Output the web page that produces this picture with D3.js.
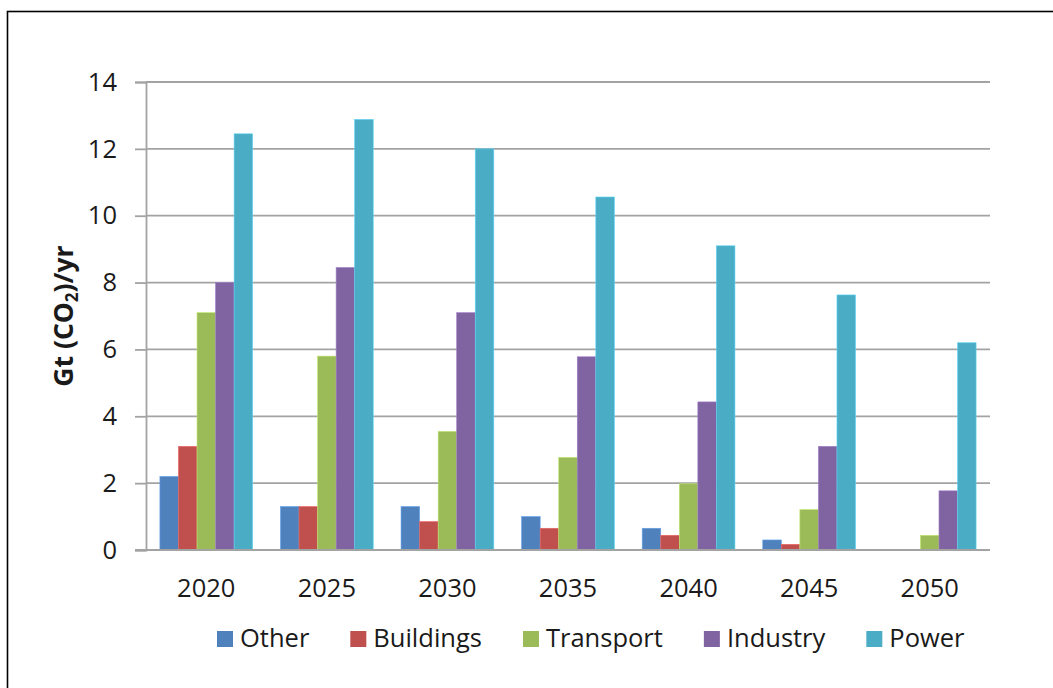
<!DOCTYPE html>
<html>
<head>
<meta charset="utf-8">
<script src="https://cdn.jsdelivr.net/npm/d3@7"></script>
<style>
  html, body { margin: 0; padding: 0; background: #fff; }
  svg { display: block; }
  text { font-family: "Open Sans", "Noto Sans", sans-serif; fill: #1a1a1a; }
</style>
</head>
<body>
<svg id="chart" width="1053" height="688"></svg>
<script>
// Emissions by sector, Gt CO2 per year
const years = ["2020", "2025", "2030", "2035", "2040", "2045", "2050"];
const sectors = ["Other", "Buildings", "Transport", "Industry", "Power"];
const other     = [2.2, 1.3, 1.3, 1.0, 0.65, 0.3, 0];
const buildings = [3.1, 1.3, 0.85, 0.65, 0.44, 0.17, 0];
const transport = [7.1, 5.8, 3.55, 2.77, 1.98, 1.21, 0.44];
const industry  = [8.0, 8.45, 7.1, 5.78, 4.43, 3.1, 1.77];
const power     = [12.45, 12.88, 12.0, 10.56, 9.1, 7.63, 6.2];
const yTicks = [0, 2, 4, 6, 8, 10, 12, 14];
const colors = ["#4F81BD", "#C0504D", "#9BBB59", "#8064A2", "#4BACC6"];

const seriesValues = [other, buildings, transport, industry, power];

const svg = d3.select("#chart");

// outer frame
svg.append("rect")
  .attr("x", 7.5).attr("y", 11.5)
  .attr("width", 1060).attr("height", 700)
  .attr("fill", "none").attr("stroke", "#000").attr("stroke-width", 1.6);

const plot = { left: 146, right: 990, top: 82, bottom: 550 };

const x0 = d3.scaleBand().domain(years).range([plot.left, plot.right]).padding(0);
const x1 = d3.scaleBand().domain(sectors).range([0, x0.bandwidth()])
  .paddingInner(0).paddingOuter(0.75);
const y = d3.scaleLinear().domain([0, 14]).range([plot.bottom, plot.top]);
const color = d3.scaleOrdinal().domain(sectors).range(colors);

// horizontal gridlines
svg.append("g")
  .selectAll("line")
  .data(yTicks.filter(t => t > 0))
  .join("line")
  .attr("x1", plot.left).attr("x2", plot.right)
  .attr("y1", d => y(d)).attr("y2", d => y(d))
  .attr("stroke", "#a3a3a3").attr("stroke-width", 1.8);

// y axis
const yAxis = svg.append("g")
  .attr("transform", `translate(${plot.left},0)`)
  .call(d3.axisLeft(y).tickValues(yTicks).tickSize(11).tickPadding(18).tickFormat(d3.format("d")));
yAxis.select(".domain").attr("stroke", "#a3a3a3").attr("stroke-width", 1.8);
yAxis.selectAll(".tick line").attr("stroke", "#a3a3a3").attr("stroke-width", 1.8);
yAxis.selectAll(".tick text")
  .attr("font-family", "'Open Sans', sans-serif")
  .attr("font-size", 25.5).attr("fill", "#1a1a1a");

// bars
const rows = years.map((yr, i) => ({ year: yr, values: sectors.map((s, j) => ({ sector: s, value: seriesValues[j][i] })) }));
const groups = svg.append("g")
  .selectAll("g")
  .data(rows)
  .join("g")
  .attr("transform", d => `translate(${x0(d.year)},0)`);
groups.selectAll("rect")
  .data(d => d.values)
  .join("rect")
  .attr("x", d => x1(d.sector))
  .attr("y", d => y(d.value))
  .attr("width", x1.bandwidth())
  .attr("height", d => y(0) - y(d.value))
  .attr("fill", d => color(d.sector))
  .attr("stroke", d => d3.color(color(d.sector)).brighter(0.6))
  .attr("stroke-width", 0.6);

// x axis baseline and labels
svg.append("line")
  .attr("x1", plot.left - 11).attr("x2", plot.right)
  .attr("y1", y(0)).attr("y2", y(0))
  .attr("stroke", "#a3a3a3").attr("stroke-width", 1.8);
svg.append("g")
  .selectAll("text")
  .data(years)
  .join("text")
  .attr("x", d => x0(d) + x0.bandwidth() / 2)
  .attr("y", 597)
  .attr("text-anchor", "middle")
  .attr("font-size", 25.5)
  .text(d => d);

// y axis title
const title = svg.append("text")
  .attr("transform", "translate(73,316) rotate(-90)")
  .attr("text-anchor", "middle")
  .attr("font-size", 26.5)
  .attr("font-weight", "bold");
title.append("tspan").text("Gt (CO");
title.append("tspan").attr("font-size", 17).attr("dy", 5).text("2");
title.append("tspan").attr("dy", -5).text(")/yr");

// legend
const legend = svg.append("g").attr("transform", "translate(217,0)");
let lx = 0;
sectors.forEach(s => {
  const g = legend.append("g").attr("transform", `translate(${lx},0)`);
  g.append("rect")
    .attr("x", 0).attr("y", 631)
    .attr("width", 16).attr("height", 16)
    .attr("fill", color(s));
  const t = g.append("text")
    .attr("x", 23).attr("y", 647)
    .attr("font-size", 25.5)
    .text(s);
  lx += 23 + t.node().getComputedTextLength() + 41;
});
</script>
</body>
</html>
